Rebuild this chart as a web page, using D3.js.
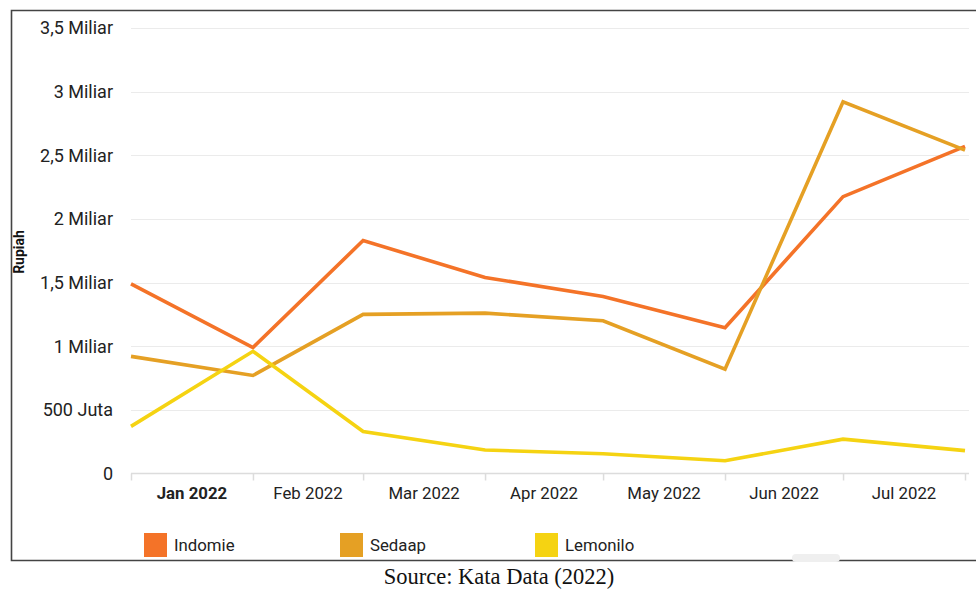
<!DOCTYPE html>
<html>
<head>
<meta charset="utf-8">
<script src="https://cdn.jsdelivr.net/npm/d3@7"></script>
<style>
  html, body { margin: 0; padding: 0; background: #fff; }
  svg { display: block; }
</style>
</head>
<body>
<svg id="chart" width="976" height="589"></svg>
<script>
const dates = ["2022-01-01","2022-02-01","2022-03-01","2022-04-01","2022-05-01","2022-06-01","2022-07-01","2022-08-01"];
const monthLabels = ["Jan 2022","Feb 2022","Mar 2022","Apr 2022","May 2022","Jun 2022","Jul 2022"];
const seriesNames = ["Indomie","Sedaap","Lemonilo"];
const indomie  = [1.49e9, 0.99e9, 1.83e9, 1.54e9, 1.39e9, 1.145e9, 2.175e9, 2.57e9];
const sedaap   = [0.92e9, 0.77e9, 1.25e9, 1.26e9, 1.20e9, 0.82e9, 2.92e9, 2.54e9];
const lemonilo = [0.37e9, 0.96e9, 0.33e9, 0.185e9, 0.155e9, 0.10e9, 0.27e9, 0.18e9];
const yTicks = [0, 0.5e9, 1e9, 1.5e9, 2e9, 2.5e9, 3e9, 3.5e9];
const yTickLabels = ["0","500 Juta","1 Miliar","1,5 Miliar","2 Miliar","2,5 Miliar","3 Miliar","3,5 Miliar"];
const colors = ["#F47328","#E5A024","#F5D312"];
const yTitle = "Rupiah";
const sourceText = "Source: Kata Data (2022)";

const parse = d3.timeParse("%Y-%m-%d");
const dts = dates.map(parse);
const allSeries = [indomie, sedaap, lemonilo];

const svg = d3.select("#chart");
const font = "Roboto, 'Noto Sans', sans-serif";

// frame
svg.append("path")
  .attr("d", "M976,10.5 H11.5 V560.5 H976")
  .attr("fill","none").attr("stroke","#444").attr("stroke-width",1.6);

// scrollbar nub
svg.append("rect").attr("x",792).attr("y",554).attr("width",48).attr("height",8)
  .attr("rx",4).attr("fill","#efefef");

const x = d3.scaleTime().domain([dts[0], dts[dts.length-1]]).range([131, 965]);
const y = d3.scaleLinear().domain([0, 3.5e9]).range([473.5, 28]);

// grid
svg.append("g").selectAll("line").data(yTicks.slice(1)).join("line")
  .attr("x1",131).attr("x2",969)
  .attr("y1",d=>Math.round(y(d))+0.5).attr("y2",d=>Math.round(y(d))+0.5)
  .attr("stroke","#ebebeb").attr("stroke-width",1);

// y labels
svg.append("g").selectAll("text").data(yTicks).join("text")
  .attr("x",113).attr("y",d=>y(d)).attr("dy","0.35em")
  .attr("text-anchor","end").attr("font-family",font).attr("font-size",18)
  .attr("fill","#222").text((d,i)=>yTickLabels[i]);

// y title
svg.append("text").attr("transform","translate(24,252) rotate(-90)")
  .attr("text-anchor","middle").attr("font-family",font).attr("font-size",14)
  .attr("font-weight","bold").attr("fill","#111").text(yTitle);

// x axis
const xAxis = d3.axisBottom(x).tickValues(dts).tickSize(7).tickFormat("");
const gx = svg.append("g").attr("transform","translate(0,473.5)").call(xAxis);
gx.select(".domain").attr("stroke","#dcdcdc").attr("stroke-width",1.5).attr("d","M131,0H969");
gx.selectAll(".tick line").attr("stroke","#dcdcdc").attr("stroke-width",1.5);

// month labels centered in month intervals
svg.append("g").selectAll("text").data(monthLabels).join("text")
  .attr("x",(d,i)=>(x(dts[i])+x(dts[i+1]))/2).attr("y",499)
  .attr("text-anchor","middle").attr("font-family",font).attr("font-size",16.8)
  .attr("font-weight",(d,i)=>i===0?"bold":"normal")
  .attr("fill","#222").text(d=>d);

// lines
const line = d3.line().x((d,i)=>x(dts[i])).y(d=>y(d));
svg.append("g").selectAll("path").data(allSeries).join("path")
  .attr("d", d=>line(d)).attr("fill","none")
  .attr("stroke",(d,i)=>colors[i]).attr("stroke-width",3.6)
  .attr("stroke-linejoin","miter").attr("stroke-linecap","butt");

// legend
const legendX = [144, 340, 535];
const lg = svg.append("g").selectAll("g").data(seriesNames).join("g")
  .attr("transform",(d,i)=>`translate(${legendX[i]},533)`);
lg.append("rect").attr("width",23).attr("height",24).attr("fill",(d,i)=>colors[i]);
lg.append("text").attr("x",30).attr("y",12).attr("dy","0.35em")
  .attr("font-family",font).attr("font-size",16.8).attr("fill","#222").text(d=>d);

// source
svg.append("text").attr("x",499).attr("y",584).attr("text-anchor","middle")
  .attr("font-family","'Liberation Serif','DejaVu Serif',serif").attr("font-size",22.5)
  .attr("fill","#111").text(sourceText);
</script>
</body>
</html>
